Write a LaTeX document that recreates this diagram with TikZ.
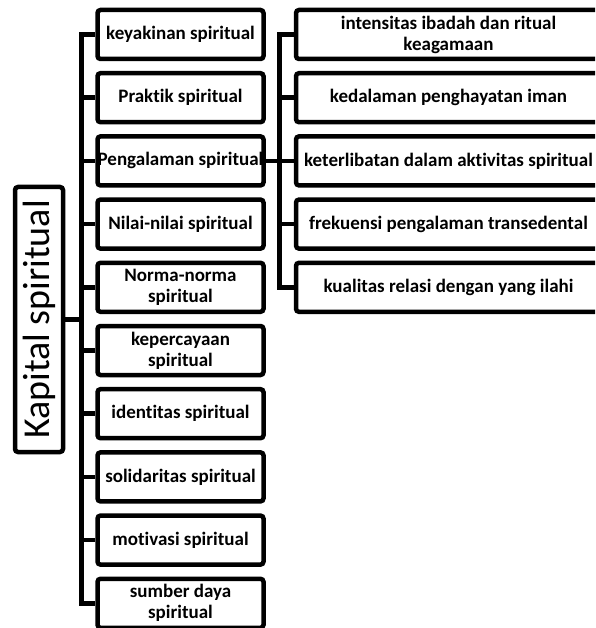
\documentclass[tikz,border=0pt]{standalone}
\usepackage{fontspec}
\setmainfont[Ligatures=NoCommon]{Carlito}

\tikzset{
  itembox/.style={draw, line width=4.5pt, rounded corners=3pt, inner sep=0pt,
    minimum width=166pt, minimum height=49pt, align=center,
    font=\bfseries\fontsize{19}{21}\selectfont},
  subbox/.style={itembox, minimum width=305pt},
  rootbox/.style={draw, line width=4.5pt, rounded corners=3pt, inner sep=0pt,
    minimum width=48pt, minimum height=265pt},
  link/.style={line width=4.5pt}
}

\begin{document}
\begin{tikzpicture}[x=1pt, y=-1pt]
    \useasboundingbox (0,0) rectangle (595,628);
    \clip (0,0) rectangle (595,628);
    % main column
    \foreach \t [count=\i] in {keyakinan spiritual, Praktik spiritual, Pengalaman spiritual,
        Nilai-nilai spiritual, {Norma-norma\\spiritual}, {kepercayaan\\spiritual},
        identitas spiritual, solidaritas spiritual, motivasi spiritual, {sumber daya\\spiritual}}
        \node[itembox] (m\i) at (180.5, {34.5+63.2*(\i-1)}) {\t};
    % detail column
    \foreach \t [count=\i] in {{intensitas ibadah dan ritual\\keagamaan}, kedalaman penghayatan iman,
        keterlibatan dalam aktivitas spiritual, frekuensi pengalaman transedental,
        kualitas relasi dengan yang ilahi}
        \node[subbox] (r\i) at (448.5, {34.5+63.2*(\i-1)}) {\t};
    \node[rootbox] (root) at (39,319.5) {\rotatebox{90}{\fontsize{38}{40}\selectfont Kapital spiritual}};
    \coordinate (tk) at (81.5,0);
    \coordinate (tr) at (279.5,0);
    % connectors
    \draw[link] (m1.west) -- (m1.west -| tk) -- (m10.west -| tk) -- (m10.west);
    \foreach \i in {2,...,9}
        \draw[link] (m\i.west) -- (m\i.west -| tk);
    \draw[link] (root.east) -- (root.east -| tk);
    \draw[link] (r1.west) -- (r1.west -| tr) -- (r5.west -| tr) -- (r5.west);
    \foreach \i in {2,3,4}
        \draw[link] (r\i.west) -- (r\i.west -| tr);
    \draw[link] (m3.east) -- (m3.east -| tr);
\end{tikzpicture}
\end{document}
